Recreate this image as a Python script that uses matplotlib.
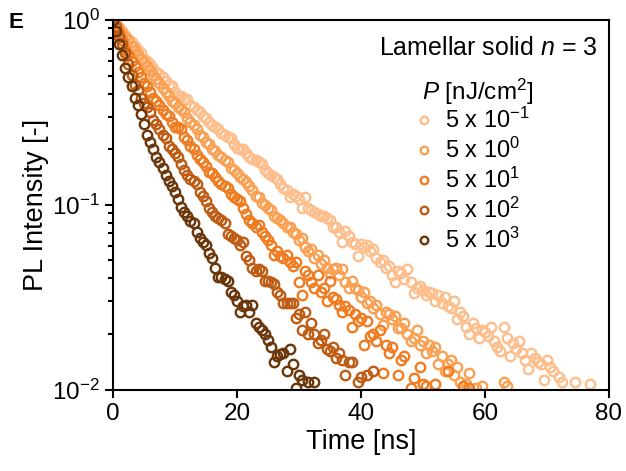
import matplotlib
matplotlib.use('Agg')
import matplotlib.pyplot as plt
from matplotlib.ticker import LogLocator, NullFormatter

# time axis of the decay traces (ns)
TIME_NS = [
    0, 0.5, 1, 1.5, 2, 2.5, 3, 3.5, 4, 4.5, 5, 5.5, 6, 6.5, 7, 7.5, 8, 8.5, 9, 9.5,
    10, 10.5, 11, 11.5, 12, 12.5, 13, 13.5, 14, 14.5, 15, 15.5, 16, 16.5, 17, 17.5, 18, 18.5, 19, 19.5,
    20, 20.5, 21, 21.5, 22, 22.5, 23, 23.5, 24, 24.5, 25, 25.5, 26, 26.5, 27, 27.5, 28, 28.5, 29, 29.5,
    30, 30.5, 31, 31.5, 32, 32.5, 33, 33.5, 34, 34.5, 35, 35.5, 36, 36.5, 37, 37.5, 38, 38.5, 39, 39.5,
    40, 40.5, 41, 41.5, 42, 42.5, 43, 43.5, 44, 44.5, 45, 45.5, 46, 46.5, 47, 47.5, 48, 48.5, 49, 49.5,
    50, 50.5, 51, 51.5, 52, 52.5, 53, 53.5, 54, 54.5, 55, 55.5, 56, 56.5, 57, 57.5, 58, 58.5, 59, 59.5,
    60, 60.5, 61, 61.5, 62, 62.5, 63, 63.5, 64, 64.5, 65, 65.5, 66, 66.5, 67, 67.5, 68, 68.5, 69, 69.5,
    70, 70.5, 71, 71.5, 72, 72.5, 73, 73.5, 74, 74.5, 75, 75.5, 76, 76.5, 77, 77.5, 78,
]

# normalised PL intensity, one list per fluence
PL_5e_1 = [
    1.000, 0.955, 0.912, 0.871, 0.832, 0.794, 0.759, 0.724, 0.692, 0.661,
    0.617, 0.603, 0.575, 0.550, 0.525, 0.513, 0.490, 0.468, 0.447, 0.437,
    0.407, 0.389, 0.389, 0.372, 0.372, 0.347, 0.339, 0.324, 0.316, 0.302,
    0.295, 0.282, 0.269, 0.263, 0.257, 0.245, 0.240, 0.234, 0.229, 0.214,
    0.204, 0.200, 0.200, 0.191, 0.182, 0.178, 0.174, 0.170, 0.166, 0.155,
    0.148, 0.145, 0.141, 0.138, 0.129, 0.123, 0.120, 0.110, 0.115, 0.112,
    0.107, 0.0955, 0.110, 0.0955, 0.0933, 0.0912, 0.0891, 0.0871, 0.0871, 0.0851,
    0.0832, 0.0759, 0.0759, 0.0708, 0.0631, 0.0724, 0.0676, 0.0631, 0.0617, 0.0525,
    0.0617, 0.0589, 0.0603, 0.0562, 0.0575, 0.0513, 0.0490, 0.0501, 0.0457, 0.0468,
    0.0417, 0.0380, 0.0437, 0.0427, 0.0398, 0.0447, 0.0380, 0.0331, 0.0355, 0.0363,
    0.0347, 0.0324, 0.0339, 0.0331, 0.0302, 0.0324, 0.0295, 0.0316, 0.0282, 0.0275,
    0.0302, 0.0240, 0.0263, 0.0251, 0.0219, 0.0200, 0.0229, 0.0214, 0.0191, 0.0209,
    0.0204, 0.0195, 0.0219, 0.0182, 0.0170, 0.0162, 0.0219, 0.0191, 0.0151, 0.0178,
    0.0166, 0.0182, 0.0158, 0.0145, 0.0129, 0.0158, 0.0148, 0.0141, 0.0138, 0.0112,
    0.0145, 0.0132, 0.0126, 0.0079, 0.0117, 0.0110, 0.0063, 0.0089, 0.0050, 0.0110,
    0.0063, 0.0040, 0.0079, 0.0050, 0.0107, 0.0040, 0.0050,
]
PL_5e0 = [
    1.000, 0.955, 0.891, 0.851, 0.813, 0.776, 0.724, 0.692, 0.646, 0.617,
    0.589, 0.562, 0.537, 0.501, 0.479, 0.457, 0.427, 0.407, 0.389, 0.363,
    0.355, 0.339, 0.331, 0.316, 0.295, 0.282, 0.269, 0.257, 0.240, 0.234,
    0.219, 0.214, 0.200, 0.195, 0.186, 0.182, 0.174, 0.170, 0.158, 0.155,
    0.148, 0.141, 0.138, 0.132, 0.126, 0.120, 0.112, 0.110, 0.102, 0.100,
    0.0955, 0.0933, 0.0871, 0.0851, 0.0832, 0.0794, 0.0759, 0.0759, 0.0708, 0.0692,
    0.0646, 0.0661, 0.0589, 0.0562, 0.0575, 0.0513, 0.0537, 0.0479, 0.0501, 0.0457,
    0.0427, 0.0447, 0.0457, 0.0417, 0.0447, 0.0380, 0.0355, 0.0389, 0.0355, 0.0347,
    0.0316, 0.0339, 0.0295, 0.0302, 0.0275, 0.0288, 0.0257, 0.0224, 0.0263, 0.0257,
    0.0240, 0.0251, 0.0214, 0.0214, 0.0229, 0.0200, 0.0182, 0.0191, 0.0209, 0.0174,
    0.0182, 0.0158, 0.0174, 0.0162, 0.0170, 0.0138, 0.0151, 0.0126, 0.0138, 0.0145,
    0.0120, 0.0132, 0.0110, 0.0079, 0.0107, 0.0123, 0.0063, 0.0102, 0.0079, 0.0105,
    0.0050, 0.0079, 0.0063, 0.0040, 0.0071, 0.0050, 0.0110, 0.0105, 0.0040,
]
PL_5e1 = [
    1.000, 0.933, 0.851, 0.776, 0.692, 0.646, 0.603, 0.562, 0.525, 0.490,
    0.457, 0.437, 0.407, 0.380, 0.363, 0.347, 0.324, 0.309, 0.302, 0.282,
    0.263, 0.263, 0.257, 0.234, 0.224, 0.209, 0.200, 0.186, 0.178, 0.170,
    0.162, 0.151, 0.148, 0.141, 0.135, 0.129, 0.126, 0.123, 0.115, 0.110,
    0.107, 0.105, 0.0955, 0.0891, 0.0832, 0.0794, 0.0759, 0.0776, 0.0708, 0.0676,
    0.0646, 0.0603, 0.0537, 0.0562, 0.0525, 0.0513, 0.0537, 0.0490, 0.0468, 0.0490,
    0.0380, 0.0324, 0.0437, 0.0417, 0.0380, 0.0355, 0.0417, 0.0339, 0.0355, 0.0302,
    0.0389, 0.0316, 0.0309, 0.0288, 0.0263, 0.0282, 0.0269, 0.0219, 0.0257, 0.0234,
    0.0245, 0.0174, 0.0234, 0.0195, 0.0200, 0.0182, 0.0209, 0.0123, 0.0174, 0.0158,
    0.0170, 0.0079, 0.0120, 0.0145, 0.0151, 0.0063, 0.0102, 0.0115, 0.0071, 0.0132,
    0.0107, 0.0105, 0.0050, 0.0063, 0.0107, 0.0040, 0.0063, 0.0079, 0.0126, 0.0050,
    0.0056, 0.0040, 0.0063, 0.0105, 0.0050, 0.0102, 0.0040,
]
PL_5e2 = [
    1.000, 0.912, 0.813, 0.741, 0.661, 0.575, 0.501, 0.447, 0.417, 0.380,
    0.355, 0.339, 0.316, 0.288, 0.275, 0.257, 0.240, 0.229, 0.209, 0.200,
    0.191, 0.182, 0.166, 0.155, 0.145, 0.138, 0.135, 0.129, 0.117, 0.112,
    0.105, 0.0955, 0.0912, 0.0871, 0.0851, 0.0832, 0.0794, 0.0692, 0.0676, 0.0661,
    0.0646, 0.0603, 0.0631, 0.0525, 0.0501, 0.0457, 0.0437, 0.0447, 0.0437, 0.0389,
    0.0389, 0.0380, 0.0372, 0.0339, 0.0324, 0.0295, 0.0295, 0.0295, 0.0295, 0.0245,
    0.0257, 0.0209, 0.0263, 0.0200, 0.0229, 0.0200, 0.0178, 0.0186, 0.0200, 0.0166,
    0.0162, 0.0170, 0.0148, 0.0158, 0.0145, 0.0120, 0.0141, 0.0141, 0.0089, 0.0110,
    0.0117, 0.0079, 0.0120, 0.0063, 0.0126, 0.0050, 0.0079,
]
PL_5e3 = [
    1.000, 0.871, 0.741, 0.646, 0.550, 0.490, 0.437, 0.380, 0.347, 0.309,
    0.275, 0.240, 0.219, 0.200, 0.182, 0.170, 0.158, 0.145, 0.135, 0.126,
    0.117, 0.107, 0.0977, 0.0912, 0.0871, 0.0813, 0.0794, 0.0708, 0.0661, 0.0631,
    0.0603, 0.0550, 0.0513, 0.0457, 0.0407, 0.0407, 0.0398, 0.0389, 0.0339, 0.0324,
    0.0302, 0.0263, 0.0282, 0.0288, 0.0263, 0.0288, 0.0229, 0.0219, 0.0209, 0.0200,
    0.0186, 0.0170, 0.0141, 0.0151, 0.0155, 0.0158, 0.0126, 0.0166, 0.0138, 0.0102,
    0.0120, 0.0112, 0.0089, 0.0110, 0.0079, 0.0110, 0.0050,
]

SERIES = [PL_5e_1, PL_5e0, PL_5e1, PL_5e2, PL_5e3]
LABELS = [r'5 x 10$^{-1}$', r'5 x 10$^{0}$', r'5 x 10$^{1}$', r'5 x 10$^{2}$', r'5 x 10$^{3}$']
COLORS = ['#FDBE8C', '#F9A052', '#F07C22', '#BE5C14', '#6B360A']

plt.rcParams['font.family'] = 'Liberation Sans'
plt.rcParams['mathtext.fontset'] = 'custom'
plt.rcParams['mathtext.rm'] = 'Liberation Sans'
plt.rcParams['mathtext.it'] = 'Liberation Sans:italic'

fig = plt.figure(figsize=(6.26, 4.71), dpi=100)
ax = fig.add_axes([0.1805, 0.173, 0.7923, 0.7845])

for vals, col, lab in zip(SERIES, COLORS, LABELS):
    ax.plot(TIME_NS[:len(vals)], vals, 'o', ls='none', mfc='none', mec=col,
            ms=6.8, mew=1.7, label=lab)

ax.set_yscale('log')
ax.set_xlim(0, 80)
ax.set_ylim(0.01, 1)
ax.set_xticks([0, 20, 40, 60, 80])
ax.yaxis.set_major_locator(LogLocator(base=10, numticks=10))
ax.yaxis.set_minor_locator(LogLocator(base=10, subs=range(2, 10), numticks=10))
ax.yaxis.set_minor_formatter(NullFormatter())

for s in ax.spines.values():
    s.set_linewidth(1.5)
ax.tick_params(which='major', direction='out', length=6, width=1.5, labelsize=17.5)
ax.tick_params(which='minor', direction='out', length=3.5, width=1.5)

ax.set_xlabel('Time [ns]', fontsize=19.5, labelpad=3)
ax.set_ylabel('PL Intensity [-]', fontsize=19.5, labelpad=2.5)

fig.text(597 / 626, 1 - 48 / 471, r'Lamellar solid $\mathit{n}$ = 3',
         ha='right', va='center', fontsize=18)
fig.text(478 / 626, 1 - 92 / 471, r'$\mathit{P}$ [nJ/cm$^2$]',
         ha='center', va='center', fontsize=17.5)

leg = ax.legend(loc='upper left', bbox_to_anchor=(413 / 626, 1 - 108 / 471),
                bbox_transform=fig.transFigure, frameon=False, fontsize=17,
                handlelength=0.9, handletextpad=0.45, labelspacing=0.2,
                markerscale=0.8, borderpad=0, borderaxespad=0)

fig.text(8 / 626, 1 - 22 / 471, 'E', fontsize=16, fontweight='bold', va='center')

fig.savefig('out.png', dpi=100)
